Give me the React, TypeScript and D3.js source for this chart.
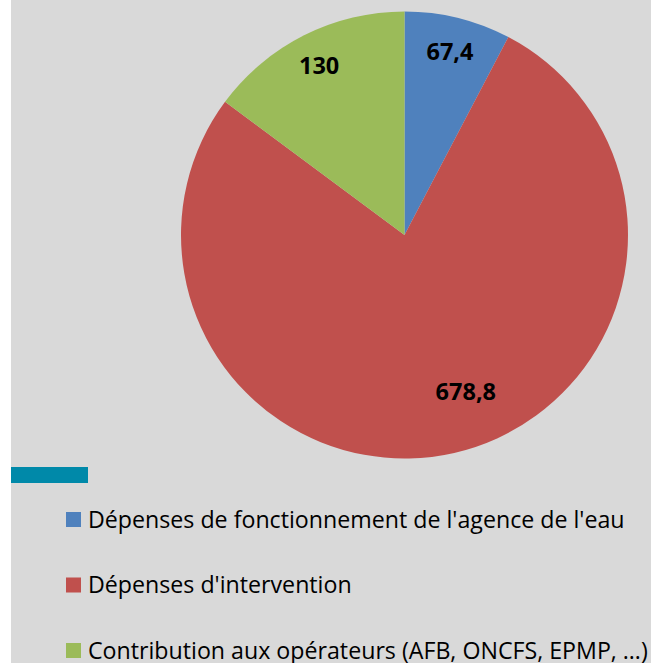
import React from 'react';
import * as d3 from 'd3';

const categories = [
  "Dépenses de fonctionnement de l'agence de l'eau",
  "Dépenses d'intervention",
  "Contribution aux opérateurs (AFB, ONCFS, EPMP, …)",
];
const values = [67.4, 678.8, 130];
const valueLabels = ['67,4', '678,8', '130'];
const colors = ['#4f81bd', '#c0504d', '#9bbb59'];

const W = 651;
const H = 663;

const App: React.FC = () => {
  const cx = 404.5;
  const cy = 235;
  const r = 223.5;

  const pie = d3.pie<number>().sort(null).value(d => d);
  const arcs = pie(values);
  const arc = d3.arc<d3.PieArcDatum<number>>().innerRadius(0).outerRadius(r);

  // Excel "best fit" label placement: radius factor + angular nudge per slice
  const labelRadius = [0.85, 0.75, 0.85];
  const labelNudge = [0, -0.15, 0];

  const legendY = d3.scaleLinear().domain([0, categories.length - 1]).range([520, 651]);

  return (
    <div style={{ position: 'absolute', left: 0, top: 0 }}>
      <svg width={W} height={H} style={{ display: 'block' }}>
        <rect x={0} y={0} width={W} height={H} fill="#ffffff" />
        <rect x={11} y={0} width={W - 11} height={H} fill="#d9d9d9" />
        <g transform={`translate(${cx},${cy})`}>
          {arcs.map((a, i) => (
            <path key={i} d={arc(a) || ''} fill={colors[i]} />
          ))}
          {arcs.map((a, i) => {
            const ang = (a.startAngle + a.endAngle) / 2 + labelNudge[i];
            const lr = r * labelRadius[i];
            return (
              <text
                key={i}
                x={Math.sin(ang) * lr}
                y={-Math.cos(ang) * lr}
                textAnchor="middle"
                dominantBaseline="central"
                fontFamily="'Open Sans', sans-serif"
                fontWeight="bold"
                fontSize={23.5}
                fill="#000"
              >
                {valueLabels[i]}
              </text>
            );
          })}
        </g>
        <rect x={11} y={467} width={77} height={16} fill="#0089a9" />
        {categories.map((c, i) => (
          <g key={i} transform={`translate(66,${legendY(i)})`}>
            <rect x={0} y={-8} width={15} height={15} fill={colors[i]} />
            <text
              x={22}
              y={7.5}
              fontFamily="'Open Sans', sans-serif"
              fontSize={23.2}
              fill="#000"
            >
              {c}
            </text>
          </g>
        ))}
      </svg>
    </div>
  );
};

export default App;
